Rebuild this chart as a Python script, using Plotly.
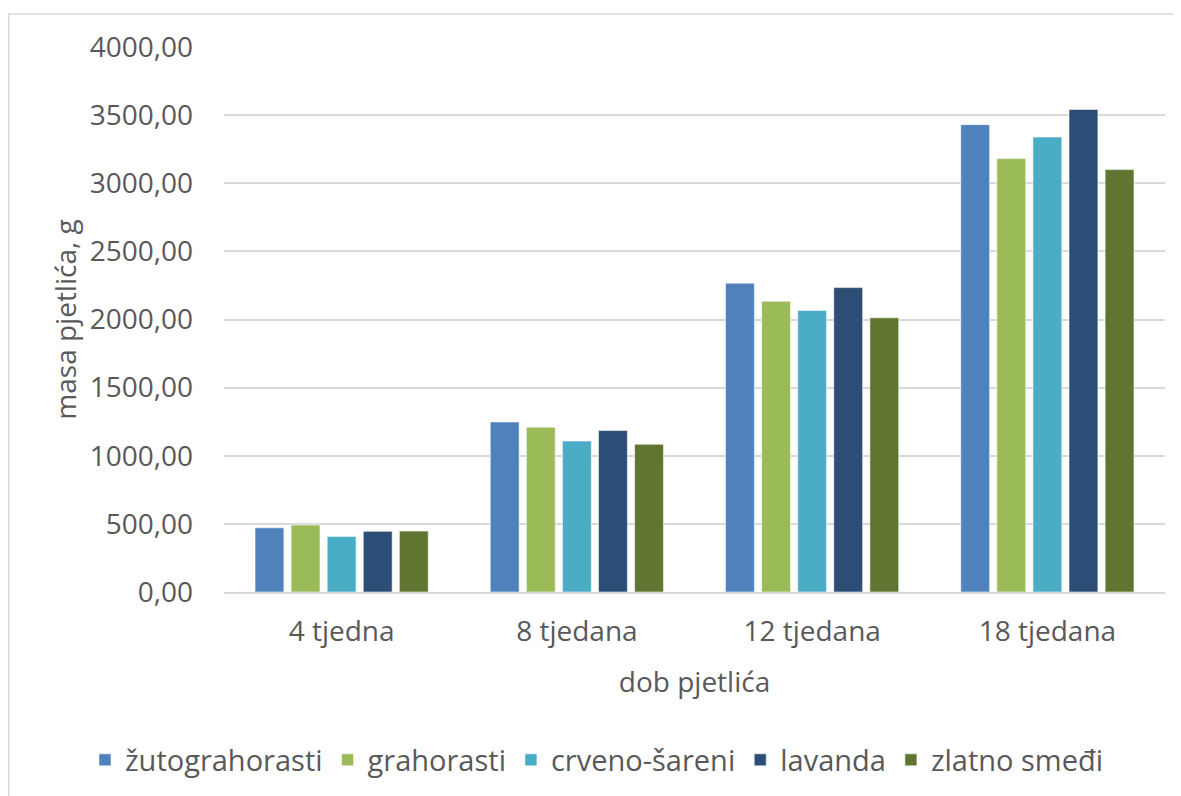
import plotly.graph_objects as go

categories = ["4 tjedna", "8 tjedana", "12 tjedana", "18 tjedana"]
series_names = ["žutograhorasti", "grahorasti", "crveno-šareni", "lavanda", "zlatno smeđi"]
zutograhorasti = [471, 1248, 2266, 3430]
grahorasti = [491, 1209, 2134, 3181]
crveno_sareni = [408, 1108, 2066, 3339]
lavanda = [445, 1185, 2234, 3542]
zlatno_smedi = [447, 1084, 2012, 3100]
series_values = [zutograhorasti, grahorasti, crveno_sareni, lavanda, zlatno_smedi]
colors = ["#4F81BD", "#9BBB59", "#4BACC6", "#2C4D75", "#5F7530"]
y_ticks = [0, 500, 1000, 1500, 2000, 2500, 3000, 3500, 4000]
y_tick_labels = ["0,00", "500,00", "1000,00", "1500,00", "2000,00", "2500,00", "3000,00", "3500,00", "4000,00"]

FONT = "Open Sans"
TXT = "#595959"
FS = 28

fig = go.Figure()
for name, vals, col in zip(series_names, series_values, colors):
    fig.add_trace(go.Bar(
        x=categories, y=vals, name=name,
        marker=dict(color=col, line=dict(color="rgba(255,255,255,0.55)", width=1)),
    ))

W, H = 1181, 796
# page has an 8px body offset; plot area should sit at page x 224..1165, y 47..592
ml, mr, mt, mb = 216, 24, 39, 212
pw = W - ml - mr
ph = H - mt - mb

fig.update_layout(
    width=W, height=H,
    margin=dict(l=ml, r=mr, t=mt, b=mb, autoexpand=False),
    paper_bgcolor="white", plot_bgcolor="white",
    barmode="group", bargap=0.233, bargroupgap=0.2,
    font=dict(family=FONT, color=TXT, size=FS),
    showlegend=True,
    legend=dict(orientation="h", x=(77 - ml) / pw, xanchor="left",
                y=(mt + ph - 752) / ph, yanchor="middle",
                font=dict(family=FONT, size=29, color=TXT),
                itemwidth=30, traceorder="normal"),
    xaxis=dict(
        showgrid=False, showline=True, linecolor="#D9D9D9", linewidth=1.5,
        ticks="", tickfont=dict(size=FS, color=TXT), ticklabelstandoff=14,
        title=dict(text="dob pjetlića", font=dict(size=FS, color=TXT), standoff=24),
    ),
    yaxis=dict(
        range=[0, 4000], tickvals=y_ticks, ticktext=y_tick_labels,
        showgrid=True, gridcolor="#D9D9D9", gridwidth=1.5,
        zeroline=False, showline=False, ticks="",
        tickfont=dict(size=FS, color=TXT), ticklabelstandoff=30,
        title=dict(text="masa pjetlića, g", font=dict(size=FS, color=TXT), standoff=4),
    ),
    shapes=[dict(
        type="rect", xref="paper", yref="paper",
        x0=(0.75 - ml) / pw, x1=(W + 5 - ml) / pw,
        y0=(mt + ph - (H + 5)) / ph, y1=(mt + ph - 6) / ph,
        line=dict(color="#D9D9D9", width=1.5), fillcolor="rgba(0,0,0,0)", layer="below",
    )],
)

fig.write_html("out.html")
